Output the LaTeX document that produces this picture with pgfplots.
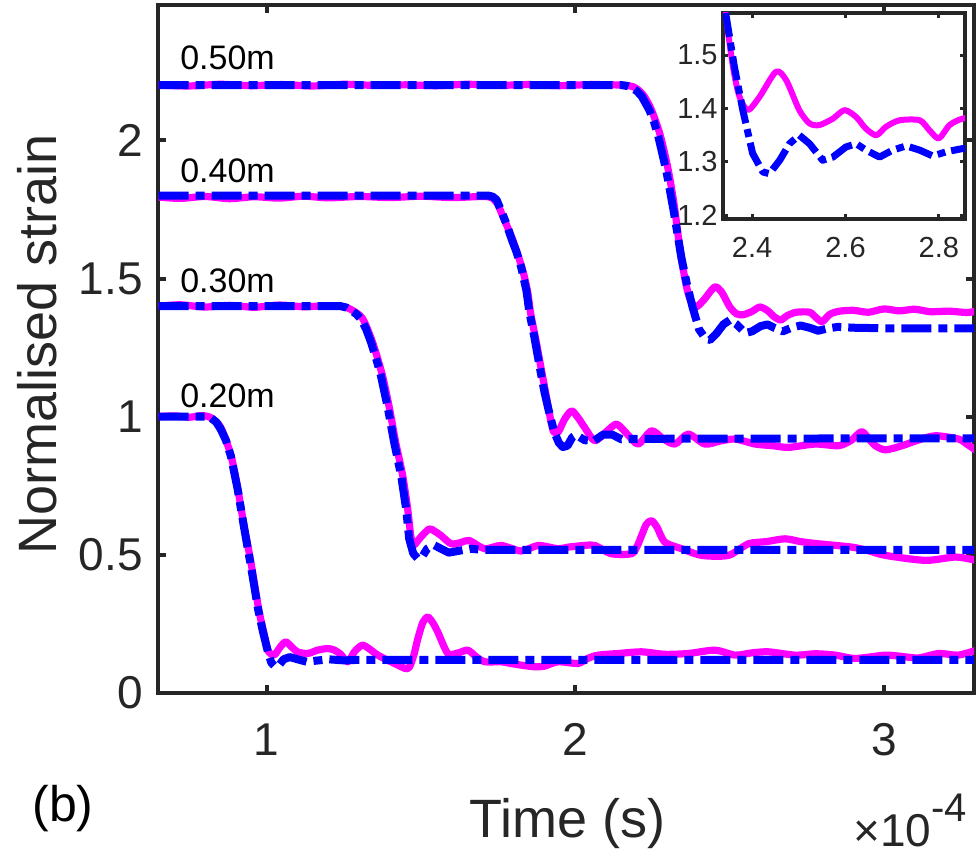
\documentclass[border=0pt]{standalone}
\usepackage{fontspec}
\setmainfont{Liberation Sans}
\usepackage{pgfplots}
\usepackage{pgfplotstable}
\pgfplotsset{compat=1.18}
\definecolor{mag}{HTML}{FF00FF}
\definecolor{blu}{HTML}{0000FF}
\definecolor{axc}{HTML}{262626}

\pgfplotstableread{
x y
0.65 1.000
0.70 1.003
0.75 0.998
0.79 1.004
0.82 0.996
0.851 0.962
0.884 0.862
0.906 0.742
0.926 0.610
0.941 0.522
0.951 0.460
0.974 0.305
0.990 0.222
1.006 0.150
1.025 0.138
1.045 0.168
1.062 0.185
1.080 0.168
1.100 0.149
1.133 0.143
1.165 0.155
1.198 0.161
1.220 0.155
1.240 0.140
1.263 0.113
1.285 0.150
1.310 0.173
1.335 0.158
1.360 0.137
1.414 0.107
1.457 0.088
1.475 0.130
1.490 0.197
1.506 0.255
1.522 0.275
1.538 0.255
1.554 0.222
1.587 0.143
1.620 0.145
1.652 0.155
1.680 0.130
1.706 0.113
1.760 0.113
1.790 0.107
1.830 0.100
1.868 0.095
1.900 0.097
1.944 0.113
2.009 0.107
2.040 0.125
2.074 0.137
2.140 0.143
2.215 0.149
2.290 0.140
2.366 0.143
2.453 0.155
2.518 0.137
2.570 0.145
2.626 0.149
2.713 0.137
2.780 0.142
2.843 0.137
2.907 0.125
3.005 0.137
3.060 0.132
3.113 0.127
3.178 0.143
3.240 0.137
3.300 0.155
}\mA
\pgfplotstableread{
x y
0.65 1.000
0.80 1.000
0.82 0.995
0.837 0.980
0.851 0.955
0.868 0.915
0.884 0.858
0.906 0.738
0.926 0.605
0.939 0.522
0.949 0.460
0.972 0.305
0.988 0.222
1.004 0.150
1.015 0.110
1.027 0.096
1.040 0.100
1.055 0.122
1.075 0.130
1.100 0.122
1.130 0.113
1.160 0.117
1.200 0.122
1.250 0.118
1.300 0.120
3.300 0.120
}\bA
\pgfplotstableread{
x y
0.65 1.400
0.72 1.405
0.80 1.397
0.88 1.403
0.96 1.396
1.04 1.404
1.12 1.398
1.20 1.402
1.25 1.398
1.278 1.385
1.311 1.355
1.343 1.270
1.375 1.150
1.398 1.030
1.418 0.908
1.441 0.786
1.457 0.666
1.467 0.570
1.476 0.535
1.500 0.565
1.527 0.594
1.545 0.585
1.565 0.570
1.598 0.540
1.630 0.545
1.657 0.552
1.706 0.522
1.760 0.534
1.825 0.514
1.880 0.534
1.944 0.522
1.977 0.528
2.030 0.534
2.063 0.534
2.117 0.504
2.182 0.504
2.200 0.530
2.215 0.570
2.230 0.610
2.247 0.624
2.265 0.600
2.290 0.546
2.345 0.522
2.410 0.498
2.496 0.498
2.561 0.540
2.620 0.548
2.680 0.558
2.730 0.548
2.788 0.540
2.896 0.528
2.950 0.515
3.005 0.498
3.135 0.480
3.232 0.492
3.300 0.480
}\mB
\pgfplotstableread{
x y
0.65 1.400
1.240 1.400
1.258 1.395
1.273 1.385
1.290 1.372
1.306 1.353
1.322 1.318
1.338 1.270
1.355 1.210
1.370 1.150
1.393 1.030
1.413 0.908
1.436 0.786
1.452 0.666
1.462 0.558
1.475 0.505
1.490 0.486
1.505 0.495
1.520 0.522
1.543 0.535
1.565 0.522
1.590 0.508
1.620 0.514
1.660 0.522
1.700 0.518
3.300 0.518
}\bB
\pgfplotstableread{
x y
0.65 1.795
0.72 1.790
0.80 1.797
0.88 1.789
0.96 1.796
1.04 1.791
1.12 1.798
1.20 1.792
1.30 1.797
1.40 1.793
1.50 1.798
1.60 1.793
1.70 1.797
1.730 1.792
1.748 1.770
1.765 1.726
1.797 1.641
1.829 1.533
1.846 1.450
1.855 1.377
1.872 1.280
1.888 1.183
1.904 1.087
1.920 0.990
1.930 0.945
1.945 0.945
1.965 0.990
1.988 1.021
2.010 0.995
2.031 0.960
2.063 0.913
2.100 0.945
2.134 0.973
2.170 0.935
2.204 0.901
2.247 0.949
2.285 0.920
2.323 0.901
2.366 0.937
2.420 0.901
2.470 0.912
2.518 0.919
2.583 0.901
2.640 0.895
2.691 0.889
2.778 0.901
2.853 0.895
2.895 0.915
2.928 0.946
2.955 0.915
2.972 0.895
3.005 0.880
3.059 0.895
3.110 0.915
3.167 0.931
3.242 0.919
3.270 0.900
3.300 0.877
}\mC
\pgfplotstableread{
x y
0.65 1.800
1.720 1.800
1.733 1.796
1.745 1.785
1.762 1.740
1.778 1.695
1.793 1.645
1.810 1.595
1.825 1.540
1.842 1.455
1.851 1.380
1.868 1.285
1.884 1.185
1.900 1.090
1.913 1.027
1.932 0.944
1.947 0.905
1.960 0.890
1.975 0.895
1.990 0.925
2.003 0.934
2.030 0.915
2.060 0.912
2.090 0.935
2.120 0.935
2.150 0.918
2.200 0.920
3.300 0.922
}\bC
\pgfplotstableread{
x y
0.65 2.200
0.75 2.197
0.85 2.203
0.95 2.198
1.05 2.202
1.15 2.197
1.25 2.203
1.35 2.199
1.45 2.201
1.55 2.198
1.65 2.203
1.75 2.199
1.85 2.202
1.95 2.198
2.05 2.202
2.15 2.200
2.190 2.193
2.220 2.165
2.247 2.110
2.275 2.020
2.300 1.900
2.320 1.770
2.340 1.600
2.359 1.478
2.373 1.422
2.391 1.397
2.416 1.422
2.451 1.469
2.473 1.453
2.501 1.397
2.523 1.372
2.544 1.369
2.573 1.381
2.598 1.397
2.623 1.384
2.644 1.362
2.666 1.350
2.687 1.366
2.716 1.378
2.759 1.378
2.780 1.359
2.800 1.344
2.823 1.369
2.851 1.381
2.900 1.385
2.950 1.378
3.000 1.390
3.050 1.383
3.100 1.389
3.150 1.380
3.210 1.382
3.270 1.377
3.300 1.383
}\mD
\pgfplotstableread{
x y
0.65 2.200
2.150 2.200
2.168 2.197
2.185 2.190
2.200 2.178
2.215 2.160
2.240 2.110
2.255 2.068
2.270 2.010
2.295 1.890
2.318 1.750
2.344 1.575
2.362 1.478
2.380 1.397
2.401 1.316
2.423 1.281
2.437 1.278
2.459 1.303
2.480 1.334
2.501 1.350
2.523 1.334
2.551 1.303
2.573 1.309
2.601 1.328
2.623 1.334
2.644 1.322
2.673 1.309
2.701 1.322
2.730 1.330
2.759 1.322
2.787 1.311
2.816 1.319
2.851 1.325
2.900 1.322
3.000 1.320
3.300 1.320
}\bD

\begin{document}
\begin{tikzpicture}
\begin{axis}[
  scale only axis, width=408pt, height=344pt,
  xmin=0.648, xmax=3.292, ymin=0, ymax=2.49,
  xtick={1,2,3}, ytick={0,0.5,1,1.5,2},
  tick align=inside, tick pos=both,
  major tick length=4pt,
  axis line style={axc, line width=2pt},
  tick style={axc, line width=2pt},
  ticklabel style={font=\fontsize{23}{23}\selectfont, text=axc, inner sep=0pt},
  xticklabel style={anchor=north, yshift=-15pt},
  yticklabel style={anchor=east, xshift=-7.5pt},
  /pgf/number format/assume math mode=true,
  magline/.style={mag, line width=3.6pt, line join=round, smooth, tension=0.45},
  bluline/.style={blu, line width=4pt, line join=round, dash pattern=on 15pt off 3.5pt on 4.5pt off 3.5pt},
]
\addplot[magline] table {\mA};
\addplot[bluline] table {\bA};
\addplot[magline] table {\mB};
\addplot[bluline] table {\bB};
\addplot[magline] table {\mC};
\addplot[bluline] table {\bC};
\addplot[magline] table {\mD};
\addplot[bluline] table {\bD};
\node[anchor=base west, inner sep=0pt, font=\fontsize{17}{17}\selectfont] at (axis cs:0.719,2.255) {0.50m};
\node[anchor=base west, inner sep=0pt, font=\fontsize{17}{17}\selectfont] at (axis cs:0.719,1.847) {0.40m};
\node[anchor=base west, inner sep=0pt, font=\fontsize{17}{17}\selectfont] at (axis cs:0.719,1.450) {0.30m};
\node[anchor=base west, inner sep=0pt, font=\fontsize{17}{17}\selectfont] at (axis cs:0.719,1.035) {0.20m};
\end{axis}

\begin{axis}[
  at={(282.5pt,237pt)}, anchor=south west,
  scale only axis, width=121pt, height=103pt,
  xmin=2.3376, xmax=2.856, ymin=1.193, ymax=1.579,
  xtick={2.4,2.6,2.8}, ytick={1.2,1.3,1.4,1.5},
  tick align=inside, tick pos=both,
  major tick length=2.5pt,
  axis background/.style={fill=white},
  axis line style={axc, line width=1.6pt},
  tick style={axc, line width=1.6pt},
  ticklabel style={font=\fontsize{14.5}{14.5}\selectfont, text=axc, inner sep=0pt},
  xticklabel style={anchor=north, yshift=-9pt},
  yticklabel style={anchor=east, xshift=-2.5pt},
  /pgf/number format/assume math mode=true,
  /pgf/number format/fixed, /pgf/number format/precision=1, /pgf/number format/fixed zerofill,
]
\addplot[mag, line width=3pt, line join=round, smooth, tension=0.45] table {\mD};
\addplot[blu, line width=3.5pt, line join=round, dash pattern=on 12pt off 3pt on 4pt off 3pt] table {\bD};
\end{axis}

\node[rotate=90, font=\fontsize{27}{27}\selectfont, text=axc] at (-60.5pt,174.5pt) {Normalised strain};
\node[anchor=base, inner sep=0pt, font=\fontsize{27}{27}\selectfont, text=axc] at (204.75pt,-72.25pt) {Time (s)};
\node[anchor=base west, inner sep=0pt, font=\fontsize{25}{25}\selectfont] at (-63pt,-64.5pt) {(b)};
\node[anchor=base west, inner sep=0pt, text=axc] at (347.5pt,-77pt) {{\fontsize{23}{23}\selectfont ×10}\raisebox{13pt}{\fontsize{20}{20}\selectfont -4}};

\pgfresetboundingbox
\path[use as bounding box] (-79pt,-84.5pt) rectangle (411pt,346.5pt);
\end{tikzpicture}
\end{document}
